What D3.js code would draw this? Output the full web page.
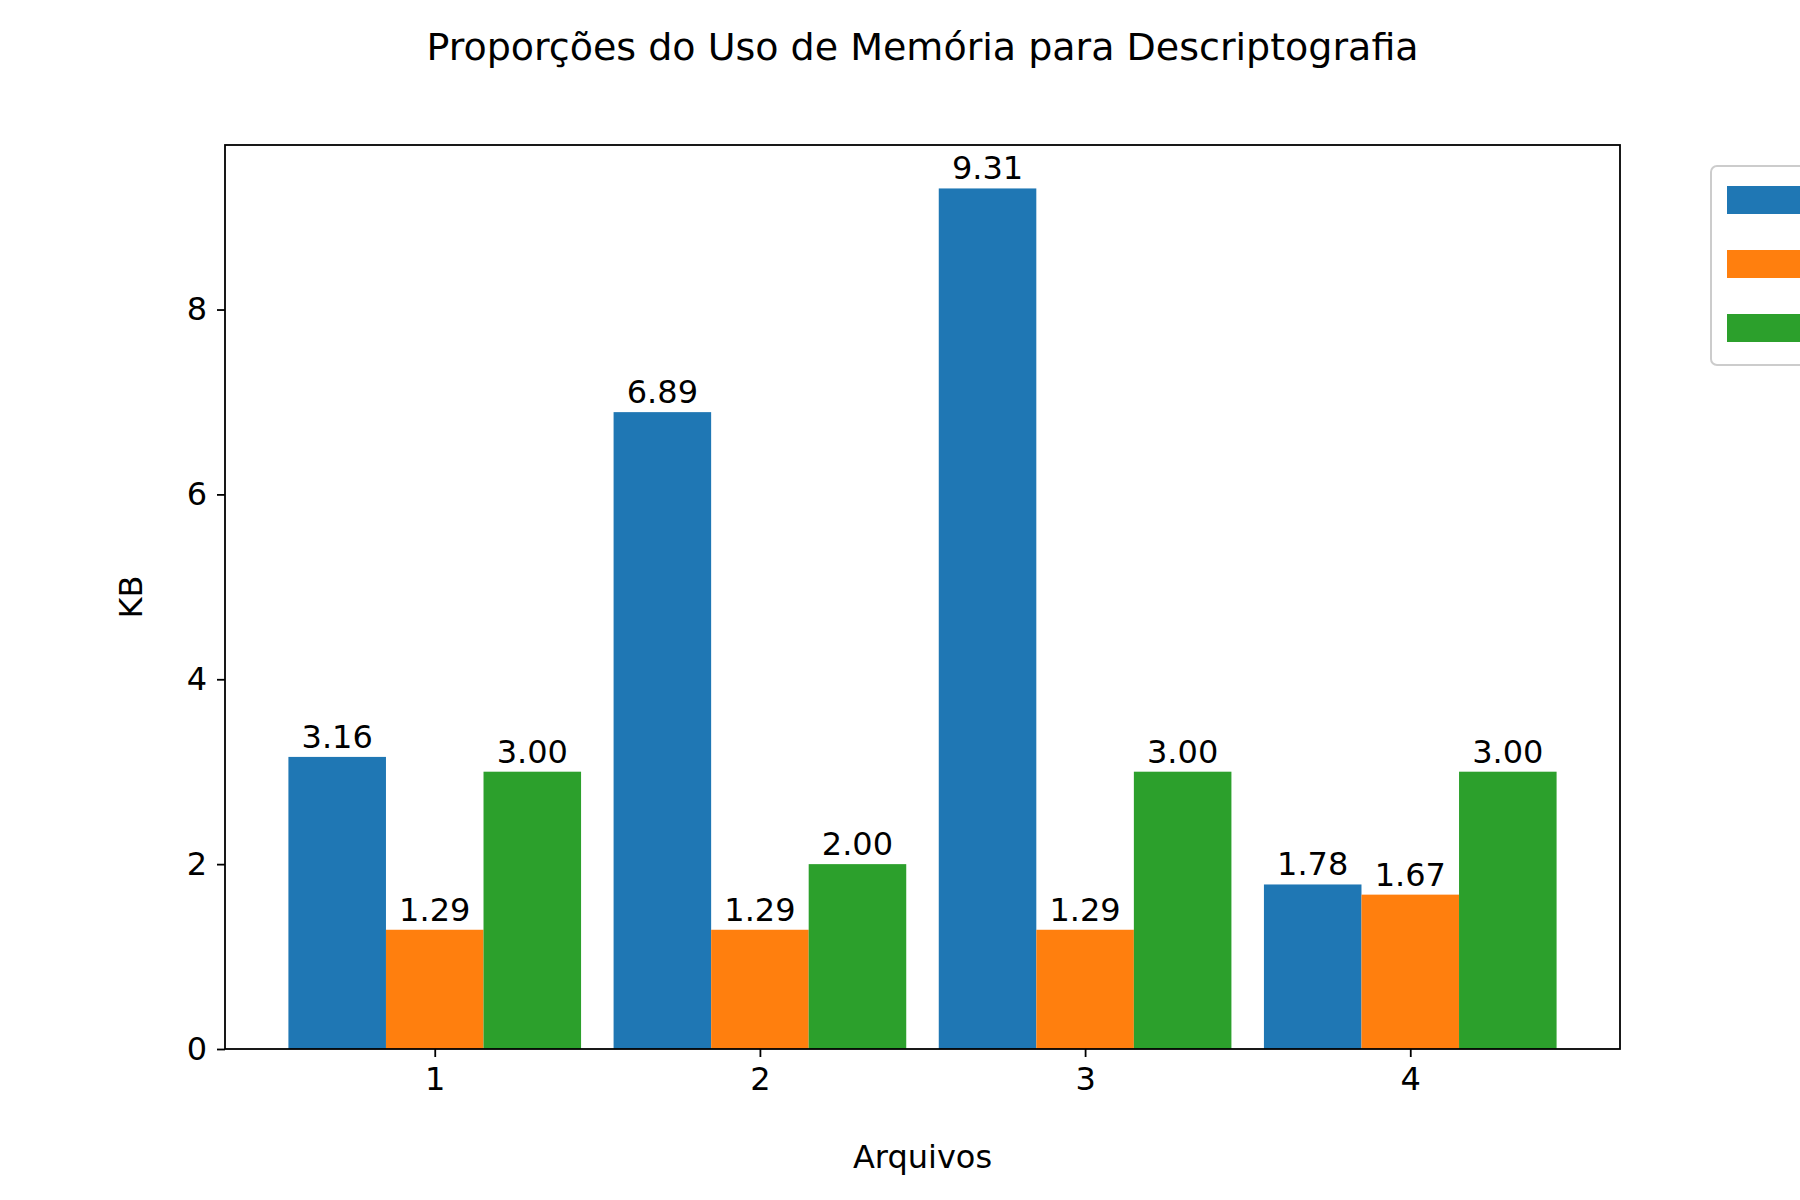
<!DOCTYPE html>
<html><head><meta charset="utf-8">
<script src="https://cdn.jsdelivr.net/npm/d3@7"></script>
<style>body{margin:0;background:#fff}svg{font-family:"DejaVu Sans",sans-serif}</style>
</head><body><svg id="c" width="1800" height="1200"></svg>
<script>
const files = [1, 2, 3, 4];
const seriesA = [3.16, 6.89, 9.31, 1.78];
const seriesB = [1.29, 1.29, 1.29, 1.67];
const seriesC = [3.00, 2.00, 3.00, 3.00];
const colors = ["#1f77b4", "#ff7f0e", "#2ca02c"];
const yTicks = [0, 2, 4, 6, 8];

const svg = d3.select("#c");
const L = 225, R = 1620, T = 145, B = 1049;
const x = d3.scaleLinear().domain([0.355, 4.645]).range([L, R]);
const y = d3.scaleLinear().domain([0, 9.78]).range([B, T]);
const w = 0.3;

[seriesA, seriesB, seriesC].forEach((s, i) => {
  const off = (i - 1) * w;
  svg.append("g").selectAll("rect").data(s).join("rect")
    .attr("x", (d, j) => x(files[j] + off - w / 2))
    .attr("width", x(w) - x(0))
    .attr("y", d => y(d)).attr("height", d => B - y(d))
    .attr("fill", colors[i]);
  svg.append("g").selectAll("text").data(s).join("text")
    .attr("x", (d, j) => x(files[j] + off))
    .attr("y", d => y(d) - 9)
    .attr("text-anchor", "middle").attr("font-size", 32)
    .text(d => d.toFixed(2));
});

const xa = svg.append("g").attr("transform", `translate(0,${B})`)
  .call(d3.axisBottom(x).tickValues(files).tickFormat(d3.format("d")).tickSize(8).tickPadding(10));
const ya = svg.append("g").attr("transform", `translate(${L},0)`)
  .call(d3.axisLeft(y).tickValues(yTicks).tickSize(8).tickPadding(10));
[xa, ya].forEach(a => {
  a.select(".domain").remove();
  a.selectAll("text").attr("font-size", 32).attr("fill", "#000").attr("font-family", "DejaVu Sans");
  a.selectAll("line").attr("stroke", "#000").attr("stroke-width", 1.8);
});
svg.append("rect").attr("x", L).attr("y", T).attr("width", R - L).attr("height", B - T)
  .attr("fill", "none").attr("stroke", "#000").attr("stroke-width", 1.8);

svg.append("text").attr("x", (L + R) / 2).attr("y", 60).attr("text-anchor", "middle")
  .attr("font-size", 38).text("Proporções do Uso de Memória para Descriptografia");
svg.append("text").attr("x", (L + R) / 2).attr("y", 1168).attr("text-anchor", "middle")
  .attr("font-size", 32).text("Arquivos");
svg.append("text").attr("transform", `translate(142,${(T + B) / 2}) rotate(-90)`)
  .attr("text-anchor", "middle").attr("font-size", 32).text("KB");

const lg = svg.append("g");
lg.append("rect").attr("x", 1711).attr("y", 166).attr("width", 140).attr("height", 199)
  .attr("rx", 6).attr("fill", "#fff").attr("stroke", "#ccc").attr("stroke-width", 2);
colors.forEach((c, i) => lg.append("rect").attr("x", 1727).attr("y", 186 + i * 64)
  .attr("width", 80).attr("height", 28).attr("fill", c));
</script></body></html>
